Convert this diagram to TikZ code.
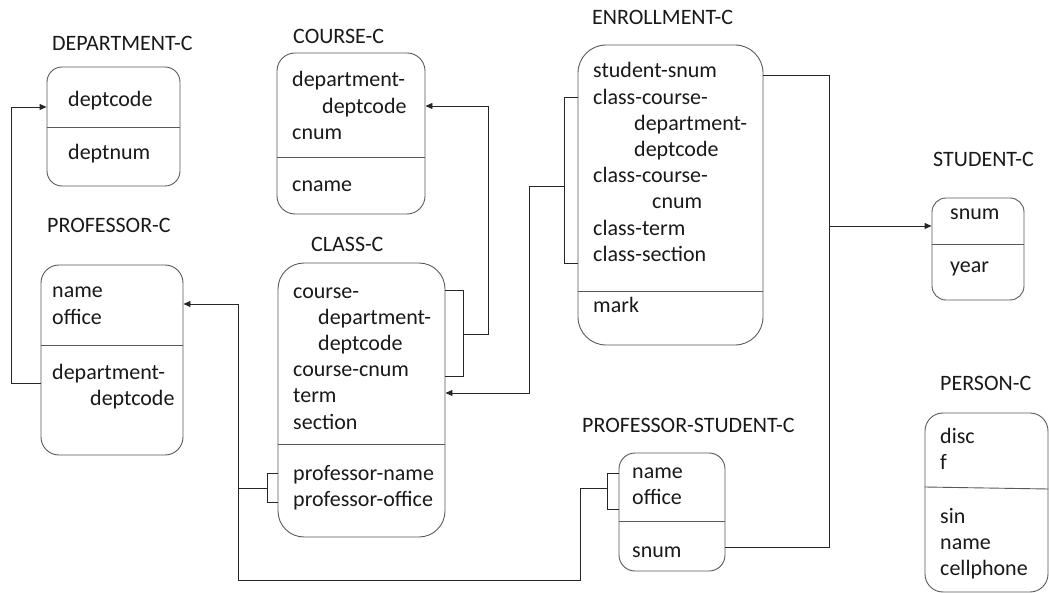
\documentclass[tikz,border=0pt]{standalone}
\usepackage{fontspec}
\setmainfont{Carlito}
\usetikzlibrary{arrows.meta}
\definecolor{edgegray}{HTML}{595959}
\definecolor{wiregray}{HTML}{262626}
\newcommand\fieldfont{\fontsize{22pt}{26.2pt}\selectfont}
\begin{document}
\begin{tikzpicture}[x=1pt,y=-1pt,
  box/.style={draw=edgegray, line width=0.9pt, rounded corners=#1, inner sep=0pt},
  divider/.style={draw=edgegray, line width=0.9pt},
  % multi-line texts sit on the baseline of their last line
  txt/.style={anchor=base west, inner sep=0pt, align=left, font=\fieldfont, text=black!90},
  wire/.style={draw=wiregray, line width=0.9pt},
  link/.style={wire, -{Triangle[length=7pt,width=6pt]}},
]
\useasboundingbox (0,0) rectangle (1049,593);

% ---------- tables ----------
\node[box=15pt, minimum width=133pt, minimum height=119pt] (dept)    at (113.5,126.5) {};
\node[box=18pt, minimum width=148pt, minimum height=161pt] (course)  at (351,133.5) {};
\node[box=18pt, minimum width=142pt, minimum height=190pt] (prof)    at (112,360) {};
\node[box=26pt, minimum width=167pt, minimum height=274pt] (class)   at (361.5,400) {};
\node[box=28pt, minimum width=185pt, minimum height=300pt] (enroll)  at (670.5,195) {};
\node[box=14pt, minimum width=92pt,  minimum height=102pt] (student) at (978,249) {};
\node[box=18pt, minimum width=123pt, minimum height=179pt] (person)  at (986.5,502.5) {};
\node[box=16pt, minimum width=106pt, minimum height=118pt] (ps)      at (672,512) {};

% compartment dividers
\draw[divider] (dept.west |- 0,127)    -- (dept.east |- 0,127);
\draw[divider] (course.west |- 0,157)  -- (course.east |- 0,157);
\draw[divider] (prof.west |- 0,345)    -- (prof.east |- 0,345);
\draw[divider] (class.west |- 0,444)   -- (class.east |- 0,444);
\draw[divider] (enroll.west |- 0,291)  -- (enroll.east |- 0,291);
\draw[divider] (student.west |- 0,244) -- (student.east |- 0,244);
\draw[divider] (person.west |- 0,487)  -- (person.east |- 0,489);
\draw[divider] (ps.west |- 0,521)      -- (ps.east |- 0,521);

% ---------- titles ----------
\node[txt] (deptT)    at (52,51)   {DEPARTMENT-C};
\node[txt] (courseT)  at (293,44)  {COURSE-C};
\node[txt] (enrollT)  at (592,25)  {ENROLLMENT-C};
\node[txt] (studentT) at (933,167) {STUDENT-C};
\node[txt] (profT)    at (47,233)  {PROFESSOR-C};
\node[txt] (classT)   at (311,252) {CLASS-C};
\node[txt] (personT)  at (940,390) {PERSON-C};
\node[txt] (psT)      at (582,432) {PROFESSOR-STUDENT-C};

% ---------- fields ----------
\node[txt] (deptA) at (68,107) {deptcode};
\node[txt] (deptB) at (68,160) {deptnum};

\node[txt] (courseA) at (292,139.4) {department-\\\hspace*{30pt}deptcode\\cnum};
\node[txt] (courseB) at (292,192) {cname};

\node[txt] (profA) at (52,324.2) {name\\office};
\node[txt] (profB) at (52,405.2) {department-\\\hspace*{38pt}deptcode};

\node[txt] (classA) at (293,429) {course-\\\hspace*{25pt}department-\\\hspace*{25pt}deptcode\\course-cnum\\term\\section};
\node[txt] (classB) at (293,506.2) {professor-name\\professor-office};

\node[txt] (enrollA) at (593,261.4) {student-snum\\class-course-\\\hspace*{41pt}department-\\\hspace*{41pt}deptcode\\class-course-\\\hspace*{59pt}cnum\\class-term\\class-section};
\node[txt] (enrollB) at (593,313) {mark};

\node[txt] (studentA) at (950,220) {snum};
\node[txt] (studentB) at (950,273) {year};

\node[txt] (personA) at (940,469.2) {disc\\f};
\node[txt] (personB) at (940,575.4) {sin\\name\\cellphone};

\node[txt] (psA) at (632,504.2) {name\\office};
\node[txt] (psB) at (632,557) {snum};

% ---------- connectors ----------
% PROFESSOR-C -> DEPARTMENT-C
\coordinate (profOut) at (prof.west |- 0,383);
\draw[link] (profOut) -| (11,107) -- (dept.west |- 0,107);

% CLASS-C (course key) -> COURSE-C
\draw[wire] (class.east |- 0,290) -| (463,376) -- (class.east |- 0,376);
\coordinate (classR) at (463,334);
\draw[link] (classR) -| (488,106) -- (course.east |- 0,106);

% ENROLLMENT-C (class key) -> CLASS-C
\draw[wire] (enroll.west |- 0,97) -| (564,263) -- (enroll.west |- 0,263);
\coordinate (enrollL) at (564,186);
\draw[link] (enrollL) -| (529,393) -- (class.east |- 0,393);

% CLASS-C (professor key) -> PROFESSOR-C
\draw[wire] (class.west |- 0,473) -| (267,502) -- (class.west |- 0,502);
\coordinate (classL) at (267,488);
\draw[link] (classL) -| (238,304) -- (prof.east |- 0,304);

% PROFESSOR-STUDENT-C (professor key) joins the same line
\draw[wire] (ps.west |- 0,473) -| (607,509) -- (ps.west |- 0,509);
\coordinate (psL) at (607,488);
\coordinate (joinP) at (238,488);
\draw[wire] (psL) -| (580,580) -| (joinP);

% ENROLLMENT-C and PROFESSOR-STUDENT-C -> STUDENT-C
\draw[wire] (enroll.east |- 0,75) -| (829,547) -- (ps.east |- 0,547);
\coordinate (stuJoin) at (829,226);
\draw[link] (stuJoin) -- (student.west |- 0,226);
\end{tikzpicture}
\end{document}
